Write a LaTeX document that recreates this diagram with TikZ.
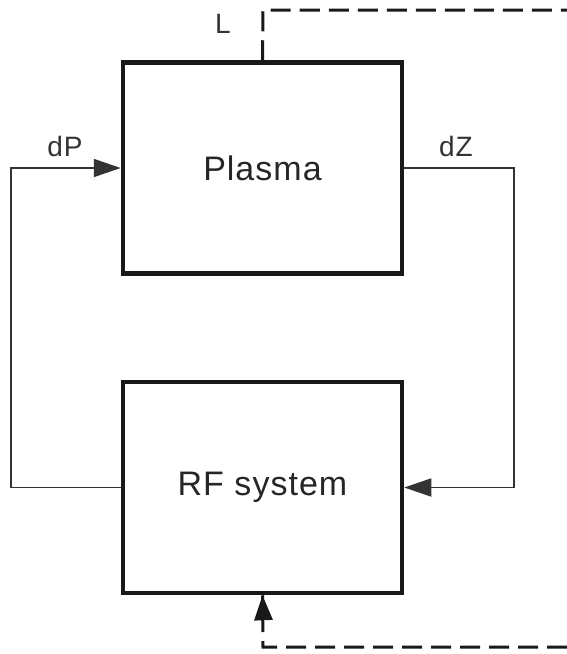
\documentclass[tikz,border=0pt]{standalone}
\usepackage{fontspec}
\setmainfont{Liberation Sans}[LetterSpace=3]
\usetikzlibrary{arrows.meta}
\begin{document}
\begin{tikzpicture}[x=1pt,y=-1pt,
  block/.style={draw=black!90,line width=4.5pt,minimum width=279pt,minimum height=211pt,
    inner sep=0pt,font=\fontsize{34}{40}\selectfont,text=black!85},
  sig/.style={draw=black!80,line width=1.8pt,
    -{Triangle[length=27pt,width=18pt]}},
  feed/.style={draw=black!90,line width=3pt,dash pattern=on 20pt off 9pt},
  lbl/.style={font=\fontsize{28}{32}\selectfont,text=black!80,inner sep=0pt}]
\useasboundingbox (0,0) rectangle (567,654);
\node[block] (plasma) at (262.5,168) {Plasma};
\node[block] (rf) at (262.5,487.5) {RF system};
\coordinate (lx) at (11,0);
\coordinate (rx) at (514,0);
\coordinate (ctop) at (263,10);
\coordinate (ctopR) at (567,10);
\coordinate (cbot) at (263,647);
\coordinate (cbotR) at (567,647);
\draw[sig] (rf.west) -| (lx |- plasma.west) -- (plasma.west);
\draw[sig] (plasma.east) -| (rx |- rf.east) -- (rf.east);
\draw[feed] (plasma.north) -- (ctop) -- (ctopR);
\draw[feed] (cbotR) -- (cbot) -- (rf.south);
\draw[draw=black!90,line width=3pt,-{Triangle[length=25pt,width=18pt]}] (263,608) -- (rf.south);
\node[lbl] (lL) at (223,24) {L};
\node[lbl] (ldP) at (65,146) {dP};
\node[lbl] (ldZ) at (456,146) {dZ};
\end{tikzpicture}
\end{document}
